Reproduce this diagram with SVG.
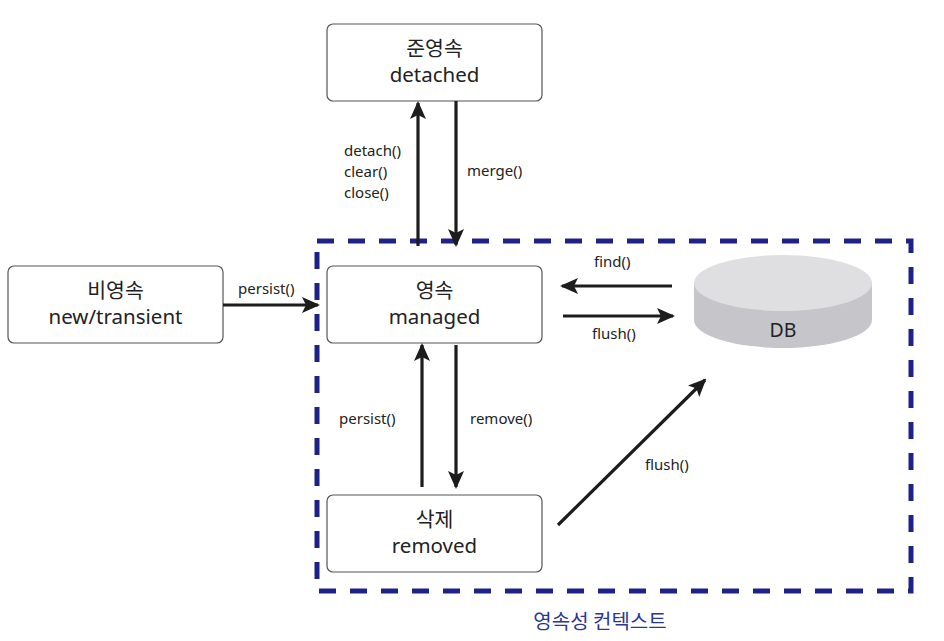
<svg xmlns="http://www.w3.org/2000/svg" width="944" height="641" viewBox="0 0 944 641">
<defs>
<style>
.box{fill:#fff;stroke:#555;stroke-width:1.2}
.t{font-family:"Noto Sans","Noto Sans CJK KR",sans-serif;font-size:20.5px;fill:#222;text-anchor:middle}
.l{font-family:"Noto Sans","Noto Sans CJK KR",sans-serif;font-size:15px;fill:#222}
.c{stroke:#1c1c1c;stroke-width:3.2;fill:none}
</style>
<marker id="ah" markerUnits="userSpaceOnUse" markerWidth="18" markerHeight="18" viewBox="0 0 18 18" refX="16" refY="9" orient="auto">
<path d="M0,1 L18,9 L0,17 L4,9 Z" fill="#1c1c1c"/>
</marker>
</defs>
<rect width="944" height="641" fill="#fff"/>
<g id="context">
<rect x="317" y="241" width="594" height="350" fill="none" stroke="#1e2288" stroke-width="5" stroke-dasharray="17 14"/>
<text x="600" y="629" font-family="'Noto Sans CJK KR',sans-serif" font-size="20" fill="#2a3799" text-anchor="middle">영속성 컨텍스트</text>
</g>
<g id="detached">
<rect class="box" x="327" y="24" width="215" height="77" rx="6"/>
<text class="t" x="434.5" y="56">준영속</text>
<text class="t" x="434.5" y="82">detached</text>
</g>
<g id="transient">
<rect class="box" x="8" y="266" width="215" height="77" rx="6"/>
<text class="t" x="115.5" y="298">비영속</text>
<text class="t" x="115.5" y="324">new/transient</text>
</g>
<g id="managed">
<rect class="box" x="327" y="266" width="215" height="77" rx="6"/>
<text class="t" x="434.5" y="298">영속</text>
<text class="t" x="434.5" y="324">managed</text>
</g>
<g id="removed">
<rect class="box" x="327" y="495" width="215" height="77" rx="6"/>
<text class="t" x="434.5" y="527">삭제</text>
<text class="t" x="434.5" y="553">removed</text>
</g>
<g id="db">
<path d="M694,283 L694,320 A89,28 0 0 0 872,320 L872,283 Z" fill="#c6c6ca"/>
<ellipse cx="783" cy="283" rx="89" ry="28" fill="#dfdfe1"/>
<text x="783" y="337" font-family="'Noto Sans',sans-serif" font-size="19.5" fill="#222" text-anchor="middle">DB</text>
</g>
<g id="connectors">
<line class="c" x1="418" y1="246" x2="418" y2="103" marker-end="url(#ah)"/>
<line class="c" x1="456" y1="101" x2="456" y2="245" marker-end="url(#ah)"/>
<line class="c" x1="223" y1="305" x2="318" y2="305" marker-end="url(#ah)"/>
<line class="c" x1="672" y1="286" x2="562" y2="286" marker-end="url(#ah)"/>
<line class="c" x1="563" y1="316" x2="673" y2="316" marker-end="url(#ah)"/>
<line class="c" x1="422" y1="487" x2="422" y2="345" marker-end="url(#ah)"/>
<line class="c" x1="456" y1="345" x2="456" y2="487" marker-end="url(#ah)"/>
<line class="c" x1="558" y1="525" x2="705" y2="380" marker-end="url(#ah)"/>
</g>
<g id="labels">
<text class="l" x="344" y="156">detach()</text>
<text class="l" x="344" y="177">clear()</text>
<text class="l" x="344" y="198">close()</text>
<text class="l" x="467" y="176">merge()</text>
<text class="l" x="238" y="294">persist()</text>
<text class="l" x="594" y="267">find()</text>
<text class="l" x="592" y="339">flush()</text>
<text class="l" x="339" y="424">persist()</text>
<text class="l" x="470" y="424">remove()</text>
<text class="l" x="645" y="470">flush()</text>
</g>
</svg>
